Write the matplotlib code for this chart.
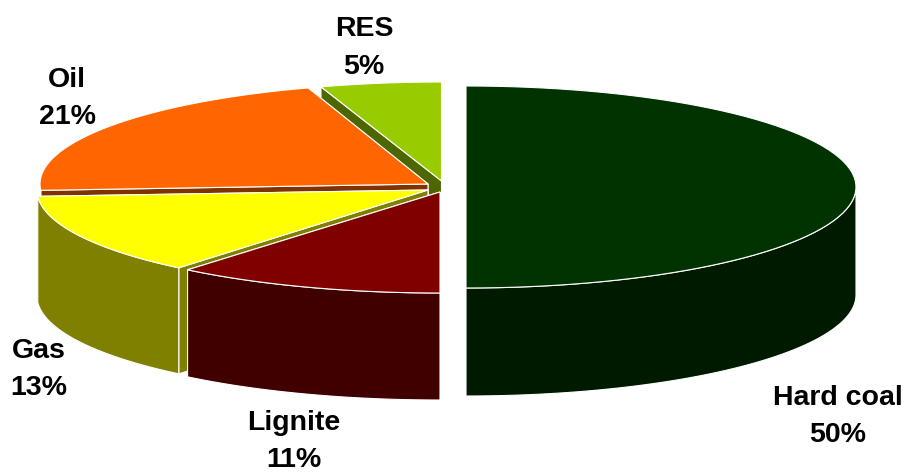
import numpy as np
import matplotlib
matplotlib.use("Agg")
import matplotlib.pyplot as plt
from matplotlib.patches import Polygon

plt.rcParams['font.family'] = ['Liberation Sans', 'DejaVu Sans']

# fuel mix, clockwise from 12 o'clock
fuels = ["Hard coal", "Lignite", "Gas", "Oil", "RES"]
shares = [50, 11, 13, 21, 5]

top_colors = ["#003300", "#800000", "#ffff00", "#ff6600", "#99cc00"]
side_colors = ["#001a00", "#400000", "#808000", "#803300", "#4d6600"]

# layout of the exploded slices, in pixels
apex_x = [466, 440, 428, 428, 441.5]
apex_y = [187, 192, 190, 184, 181]
radius_x = [390, 396, 391, 388, 390]
radius_y = [101, 101, 101, 101, 99]
depth = [108, 107, 106, 106, 106]
label_x = [838, 294, 39, 67, 364]
label_y = [416, 441, 369, 98, 48]

ends = np.cumsum(shares) / sum(shares) * 360
starts = ends - np.array(shares) / sum(shares) * 360

fig = plt.figure(figsize=(9.05, 4.73), dpi=100)
ax = fig.add_axes([0, 0, 1, 1])
ax.set_xlim(0, 905)
ax.set_ylim(473, 0)
ax.axis('off')


def rim(i, t0, t1):
    t = np.radians(np.linspace(t0, t1, 80))
    return np.column_stack([apex_x[i] + radius_x[i] * np.sin(t),
                            apex_y[i] - radius_y[i] * np.cos(t)])


def draw_slice(i):
    arc = rim(i, starts[i], ends[i])
    apex = np.array([apex_x[i], apex_y[i]])
    down = np.array([0, depth[i]])

    # cut faces, the far one first
    for end in (arc[-1], arc[0]):
        face = [apex, end, end + down, apex + down]
        ax.add_patch(Polygon(face, fc=side_colors[i], ec='white', lw=0.8))

    # outer wall, only the part that faces the viewer
    t0, t1 = max(starts[i], 90), min(ends[i], 270)
    if t1 > t0:
        front = rim(i, t0, t1)
        wall = np.vstack([front, front[::-1] + down])
        ax.add_patch(Polygon(wall, fc=side_colors[i], ec='white', lw=0.8))

    ax.add_patch(Polygon(np.vstack([apex, arc]), fc=top_colors[i], ec='white', lw=0.8))


# back to front
for i in [4, 3, 2, 1, 0]:
    draw_slice(i)

for i in range(len(fuels)):
    ax.text(label_x[i], label_y[i], f"{fuels[i]}\n{shares[i]}%", ha='center', va='center',
            fontsize=20.5, fontweight='bold', color='black', linespacing=1.55)

plt.savefig('out.png', dpi=100)
plt.close()
